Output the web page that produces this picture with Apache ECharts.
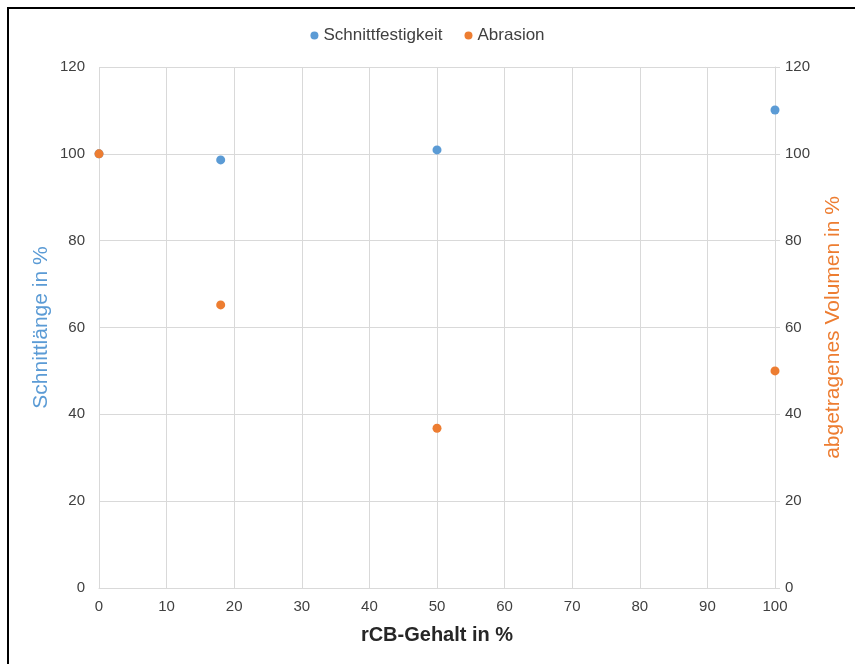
<!DOCTYPE html>
<html>
<head>
<meta charset="utf-8">
<script src="https://cdn.jsdelivr.net/npm/echarts@6/dist/echarts.min.js"></script>
<style>
html,body{margin:0;padding:0;background:#fff;}
#frame{position:absolute;left:7px;top:7px;width:860px;height:670px;border-top:2px solid #000;border-left:2px solid #000;box-sizing:border-box;}
#chart{position:absolute;left:0;top:0;width:855px;height:664px;}
</style>
</head>
<body>
<div id="chart"></div>
<div id="frame"></div>
<script>
var xTicks = [0, 10, 20, 30, 40, 50, 60, 70, 80, 90, 100];
var yTicks = [0, 20, 40, 60, 80, 100, 120];
var rcbContent = [0, 18, 50, 100];
var schnittfestigkeit = [100, 98.6, 100.9, 110.1];
var abrasion = [100, 65.2, 36.8, 50.0];

var FONT = '"Liberation Sans", Arial, sans-serif';
function pairs(xs, ys){ return xs.map(function(x,i){ return [x, ys[i]]; }); }

var chart = echarts.init(document.getElementById('chart'), null, {renderer:'canvas'});
chart.setOption({
  animation:false,
  backgroundColor:'#fff',
  textStyle:{fontFamily:FONT},
  legend:{
    top:22, left:'center', itemGap:22, itemWidth:8, itemHeight:8,
    icon:'circle',
    textStyle:{fontFamily:FONT, fontSize:17, color:'#404040'},
    data:['Schnittfestigkeit','Abrasion']
  },
  grid:{left:99, right:80, top:67, bottom:76, containLabel:false},
  xAxis:{
    type:'value', min:xTicks[0], max:xTicks[xTicks.length-1], interval:10,
    name:'rCB-Gehalt in %', nameLocation:'middle', nameGap:37,
    nameTextStyle:{fontFamily:FONT, fontSize:20, fontWeight:'bold', color:'#262626'},
    axisLine:{show:true, onZero:false, lineStyle:{color:'#d9d9d9'}},
    axisTick:{show:false},
    axisLabel:{fontFamily:FONT, fontSize:15, color:'#404040', margin:11},
    splitLine:{show:true, lineStyle:{color:'#d9d9d9'}}
  },
  yAxis:[{
    type:'value', min:yTicks[0], max:yTicks[yTicks.length-1], interval:20, position:'left',
    name:'Schnittlänge in %', nameLocation:'middle', nameGap:47, nameRotate:90,
    nameMoveOverlap:false,
    nameTextStyle:{fontFamily:FONT, fontSize:21, color:'#5B9BD5'},
    axisLine:{show:false}, axisTick:{show:false},
    axisLabel:{fontFamily:FONT, fontSize:15, color:'#404040', margin:14},
    splitLine:{show:true, lineStyle:{color:'#d9d9d9'}}
  },{
    type:'value', min:yTicks[0], max:yTicks[yTicks.length-1], interval:20, position:'right',
    name:'abgetragenes Volumen in %', nameLocation:'middle', nameGap:48, nameRotate:90,
    nameMoveOverlap:false,
    nameTextStyle:{fontFamily:FONT, fontSize:21, color:'#ED7D31'},
    axisLine:{show:true, lineStyle:{color:'#d9d9d9'}},
    axisTick:{show:true, length:5, lineStyle:{color:'#d9d9d9'}},
    axisLabel:{fontFamily:FONT, fontSize:15, color:'#404040', margin:10},
    splitLine:{show:false}
  }],
  series:[{
    name:'Schnittfestigkeit', type:'scatter', yAxisIndex:0,
    symbolSize:9, itemStyle:{color:'#5B9BD5', opacity:1},
    data:pairs(rcbContent, schnittfestigkeit)
  },{
    name:'Abrasion', type:'scatter', yAxisIndex:1,
    symbolSize:9, itemStyle:{color:'#ED7D31', opacity:1},
    data:pairs(rcbContent, abrasion)
  }]
});
</script>
</body>
</html>
